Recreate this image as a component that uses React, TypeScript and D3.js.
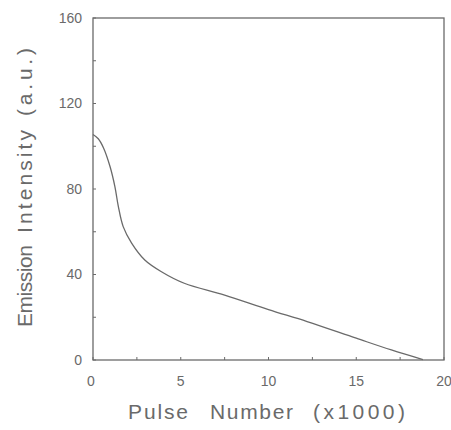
import React from 'react';
import * as d3 from 'd3';

// pulse number (x1000) and emission intensity
const pulses = [0, 0.3, 0.6, 0.97, 1.25, 1.44, 1.72, 2.2, 2.95, 3.9, 5.2, 7.5, 10, 12.2, 15, 17, 18.8];
const intensity = [105.5, 103.5, 99.2, 90.5, 81, 72, 62.4, 54.7, 46.8, 41.3, 35.9, 30.4, 23.6, 18, 10.2, 4.7, 0.2];

const xTicks = [0, 5, 10, 15, 20];
const xMinor = [2.5, 7.5, 12.5, 17.5];
const yTicks = [0, 40, 80, 120, 160];
const yMinor = [20, 60, 100, 140];

const xTitle = ['Pulse', 'Number', '(x1000)'];
const yTitle = ['Emission', 'Intensity', '(a.u.)'];

const ink = '#6a6a6a';
const font = '"Liberation Sans", Arial, sans-serif';

const App = () => {
  const size = { width: 451, height: 430 };
  const frame = { left: 93, right: 444, top: 18, bottom: 360 };

  const x = d3.scaleLinear().domain([0, 20]).range([frame.left, frame.right]);
  const y = d3.scaleLinear().domain([0, 160]).range([frame.bottom, frame.top]);

  const line = d3
    .line<number>()
    .x(i => x(pulses[i]))
    .y(i => y(intensity[i]))
    .curve(d3.curveCatmullRom.alpha(0.5));

  const path = line(pulses.map((_, i) => i)) || '';

  // word spans of the axis titles: [start, width] in page pixels
  const xWords = [[128, 60], [210, 83], [313, 92]];
  const yWords = [[327, 82], [233, 103], [116, 68]];

  return (
    <svg
      width={size.width}
      height={size.height}
      style={{ position: 'absolute', left: 0, top: 0, background: '#fff' }}
    >
      <rect
        x={frame.left}
        y={frame.top}
        width={frame.right - frame.left}
        height={frame.bottom - frame.top}
        fill="none"
        stroke={ink}
        strokeWidth={1.3}
      />

      {/* inward ticks */}
      <g stroke={ink} strokeWidth={1}>
        {xTicks.concat(xMinor).map(t => (
          <line key={'x' + t} x1={x(t)} x2={x(t)} y1={frame.bottom} y2={frame.bottom - 3} />
        ))}
        {yTicks.concat(yMinor).map(t => (
          <line key={'y' + t} x1={frame.left} x2={frame.left + 3} y1={y(t)} y2={y(t)} />
        ))}
      </g>

      <g fill={ink} fontFamily={font} fontSize={14}>
        {yTicks.map(t => (
          <text key={t} x={82} y={y(t)} dy="0.35em" textAnchor="end">
            {t}
          </text>
        ))}
        {xTicks.map(t => (
          <text key={t} x={x(t) - (t === 0 ? 2 : 0)} y={381} dy="0.35em" textAnchor="middle">
            {t}
          </text>
        ))}
      </g>

      <path d={path} fill="none" stroke={ink} strokeWidth={1.3} />

      <g fill={ink} fontFamily={font} fontSize={21}>
        {xTitle.map((w, i) => (
          <text
            key={w}
            x={xWords[i][0]}
            y={419}
            textLength={xWords[i][1]}
            lengthAdjust="spacing"
          >
            {w}
          </text>
        ))}
        {yTitle.map((w, i) => (
          <text
            key={w}
            transform={`translate(32, ${yWords[i][0]}) rotate(-90)`}
            textLength={yWords[i][1]}
            lengthAdjust="spacing"
          >
            {w}
          </text>
        ))}
      </g>
    </svg>
  );
};

export default App;
